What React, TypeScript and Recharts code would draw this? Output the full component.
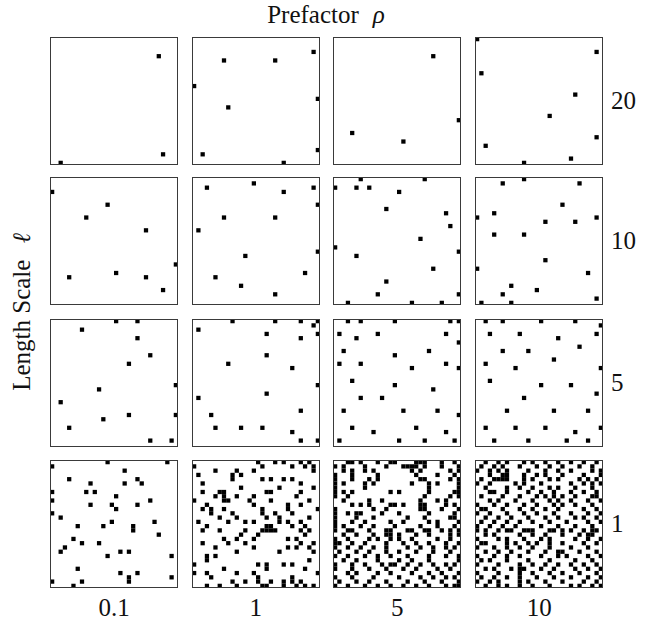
import React from 'react'
import { ScatterChart, Scatter, XAxis, YAxis } from 'recharts'

// grid is 30 x 30 cells per panel; points are [col, row], row 0 at the top
const rhoLabels = ['0.1', '1', '5', '10']
const ellLabels = ['20', '10', '5', '1']

const l20_r01 = [[25, 4], [26, 27], [2, 29]]
const l20_r1 = [[7, 5], [19, 5], [28, 3], [0, 11], [8, 16], [29, 14], [2, 27], [29, 26], [21, 29]]
const l20_r5 = [[23, 4], [4, 22], [29, 19], [16, 24]]
const l20_r10 = [[0, 0], [28, 3], [1, 8], [23, 13], [17, 18], [28, 23], [2, 25], [22, 28], [11, 29]]

const l10_r01 = [[0, 3], [13, 6], [8, 9], [22, 12], [29, 20], [4, 23], [15, 22], [22, 23], [26, 26]]
const l10_r1 = [
  [3, 2], [14, 1], [21, 3], [28, 2], [29, 6], [7, 9], [19, 9], [1, 12], [29, 17], [12, 18],
  [5, 23], [26, 22], [11, 25], [19, 27],
]
const l10_r5 = [
  [6, 0], [21, 0], [0, 2], [5, 2], [8, 2], [15, 3], [12, 7], [26, 8], [27, 11], [20, 14],
  [0, 16], [5, 18], [29, 17], [23, 21], [12, 24], [10, 27], [29, 27], [3, 29], [18, 29], [25, 29],
]
const l10_r10 = [
  [6, 1], [11, 0], [24, 1], [20, 6], [4, 8], [0, 9], [16, 10], [23, 10], [28, 9], [4, 13],
  [11, 13], [16, 19], [0, 21], [26, 22], [8, 25], [14, 26], [6, 27], [1, 29], [8, 29], [28, 28],
]

const l5_r01 = [
  [7, 2], [15, 0], [20, 0], [20, 4], [23, 8], [18, 10], [11, 16], [29, 15], [2, 19], [29, 22],
  [4, 25], [12, 23], [18, 22], [23, 28], [28, 28],
]
const l5_r1 = [
  [9, 0], [25, 0], [28, 1], [29, 3], [1, 2], [17, 3], [25, 4], [17, 8], [8, 10], [23, 11],
  [29, 15], [17, 17], [1, 18], [4, 22], [25, 21], [5, 25], [11, 25], [16, 25], [23, 26], [25, 28],
  [29, 28], [19, 0], [29, 0],
]
const l5_r5 = [
  [3, 0], [6, 0], [14, 0], [27, 0], [29, 0], [1, 3], [5, 4], [10, 3], [26, 3], [29, 5],
  [2, 7], [14, 8], [22, 7], [1, 10], [6, 10], [18, 11], [26, 10], [29, 11], [4, 14], [14, 15],
  [23, 16], [6, 18], [11, 18], [2, 21], [16, 21], [24, 21], [29, 22], [4, 25], [9, 26], [19, 25],
  [26, 26], [1, 28], [15, 28], [21, 28], [28, 28],
]
const l5_r10 = [
  [2, 0], [6, 0], [15, 0], [23, 0], [29, 1], [3, 3], [10, 3], [19, 4], [28, 3], [6, 7],
  [12, 7], [24, 6], [2, 10], [9, 11], [18, 9], [29, 11], [3, 14], [15, 15], [22, 15], [28, 17],
  [11, 18], [7, 21], [18, 21], [26, 21], [2, 25], [9, 25], [16, 25], [23, 26], [29, 25], [4, 28],
  [12, 28], [21, 28], [26, 28],
]

const l1_r01 = [
  [0, 1], [13, 0], [27, 0], [17, 2], [4, 4], [9, 5], [17, 5], [20, 4], [21, 5], [0, 7],
  [8, 7], [10, 7], [15, 8], [0, 9], [23, 9], [9, 10], [14, 10], [20, 10], [15, 11], [0, 12],
  [2, 13], [14, 14], [24, 14], [6, 15], [12, 15], [19, 15], [19, 16], [25, 17], [5, 18], [7, 19],
  [11, 19], [3, 20], [2, 21], [16, 21], [18, 21], [13, 22], [28, 22], [6, 25], [16, 26], [20, 26],
  [28, 27], [18, 27], [18, 28], [0, 28], [7, 28], [5, 29],
]

// dense panels: one list of filled columns per row
const l1_r1 = [
  [15, 19, 21, 25, 27], [0, 16, 23, 26, 28], [5, 10, 14, 28], [1, 9, 11],
  [9, 16, 18, 21, 23], [2, 25], [11, 20, 28], [2, 6, 7, 17, 18, 25],
  [5, 7, 10, 14, 24], [0, 7, 8, 13, 18, 27], [3, 14, 22, 25], [2, 4, 7, 16, 22, 29],
  [4, 9, 16, 19, 23], [6, 10, 17, 20, 27], [1, 8, 12, 14, 20, 22, 25], [3, 17, 18, 23, 26],
  [2, 6, 12, 16, 17, 18, 19, 25, 27], [11, 15, 26], [7, 10, 14, 22, 24], [2, 8, 12, 25, 28],
  [5, 14, 22, 24, 27], [10, 20, 28], [3, 5], [3, 27],
  [0, 15, 17, 21, 23], [7, 17, 26], [0, 3, 10, 14, 29], [4, 15, 23],
  [9, 12, 15, 18, 21, 23, 25], [3, 6, 10, 16, 17, 21, 24, 26, 28],
]
const l1_r5 = [
  [3, 4, 6, 10, 13, 14, 19, 20, 21, 25, 28], [0, 2, 7, 12, 16, 17, 18, 19, 21, 25, 29],
  [2, 4, 7, 9, 18, 20, 27, 29], [0, 4, 10, 19, 24, 28],
  [0, 4, 8, 10, 20, 21, 27, 29], [0, 2, 7, 9, 18, 22, 24, 29],
  [0, 7, 22, 29], [0, 2, 4, 13, 15, 22, 28, 29],
  [0, 3, 21, 27, 29], [2, 8, 11, 20, 24, 26],
  [4, 6, 8, 13, 14, 16, 20, 21, 26, 28], [0, 9, 12, 20, 21, 25, 29],
  [0, 3, 5, 6, 11, 15, 22, 28], [0, 5, 9, 17, 21, 27, 28],
  [0, 4, 7, 13, 16, 22, 24, 29], [0, 2, 6, 9, 14, 20, 24, 28],
  [0, 3, 4, 8, 12, 13, 17, 18, 21, 22, 25, 27, 29], [2, 5, 9, 12, 13, 15, 19, 22, 27, 29],
  [0, 3, 8, 10, 13, 15, 18, 24, 27], [0, 1, 4, 7, 12, 16, 19, 22, 26, 29],
  [0, 3, 6, 9, 12, 17, 20, 23, 26, 28], [1, 5, 8, 12, 15, 19, 23, 27],
  [0, 3, 7, 10, 13, 17, 22, 26, 29], [2, 5, 10, 15, 18, 22, 29],
  [0, 4, 7, 11, 13, 14, 17, 20, 23, 26, 28], [0, 4, 8, 12, 16, 19, 24, 27],
  [3, 5, 10, 13, 18, 22, 25, 29], [0, 4, 9, 15, 20, 23, 26, 28],
  [1, 5, 8, 12, 17, 21, 25, 29], [0, 3, 7, 10, 13, 16, 19, 22, 26, 28, 29],
]
const l1_r10 = [
  [2, 5, 7, 11, 13, 16, 19, 22, 25, 28], [1, 4, 6, 10, 14, 17, 20, 24, 27],
  [0, 3, 5, 7, 12, 16, 19, 22, 27, 29], [3, 6, 7, 11, 14, 16, 20, 25, 29],
  [1, 4, 5, 6, 7, 11, 13, 17, 19, 24, 26, 28], [0, 3, 9, 11, 15, 22, 25, 27, 29],
  [2, 7, 10, 13, 17, 19, 23, 27], [3, 4, 7, 12, 15, 18, 22, 25, 28],
  [1, 6, 10, 14, 16, 18, 20, 23, 27, 28], [3, 5, 9, 13, 17, 19, 22, 26, 29],
  [0, 4, 7, 11, 14, 18, 20, 23, 27], [1, 2, 6, 10, 13, 16, 19, 25, 28],
  [0, 3, 7, 11, 14, 18, 22, 26, 29], [2, 5, 8, 12, 16, 19, 23, 25, 28],
  [1, 4, 7, 10, 13, 17, 21, 26, 29], [0, 3, 6, 9, 15, 19, 23, 27],
  [0, 2, 5, 7, 8, 11, 12, 13, 17, 18, 20, 22, 25, 27, 28], [2, 4, 10, 13, 16, 20, 24, 26, 27],
  [0, 5, 7, 11, 15, 17, 23, 26, 29], [1, 2, 7, 9, 12, 14, 17, 20, 25, 28],
  [0, 4, 7, 10, 13, 17, 22, 26], [2, 5, 8, 12, 16, 19, 20, 24, 28],
  [0, 4, 7, 10, 15, 19, 21, 26, 29], [1, 3, 7, 12, 17, 23, 27],
  [0, 5, 10, 13, 16, 19, 22, 25, 28], [2, 4, 8, 10, 11, 15, 18, 23, 26, 29],
  [0, 5, 10, 13, 17, 20, 24, 28], [1, 4, 7, 10, 14, 18, 22, 26, 29],
  [0, 3, 5, 10, 12, 16, 20, 25, 28], [2, 5, 7, 10, 13, 17, 22, 24, 27, 29],
]

const fromRows = (rows: number[][]) =>
  rows.flatMap((cols, row) => cols.map(col => [col, row]))

const panels = [
  [l20_r01, l20_r1, l20_r5, l20_r10],
  [l10_r01, l10_r1, l10_r5, l10_r10],
  [l5_r01, l5_r1, l5_r5, l5_r10],
  [l1_r01, fromRows(l1_r1), fromRows(l1_r5), fromRows(l1_r10)],
]

const N = 30
const SIZE = 128
const CELL = SIZE / N
const lefts = [50, 191.7, 333.3, 475.3]
const tops = [36.7, 177.3, 319, 460]

const font = '"Liberation Serif", "DejaVu Serif", serif'

const Cell = (props: any) => {
  const { cx, cy } = props
  return <rect x={cx - CELL / 2} y={cy - CELL / 2} width={CELL} height={CELL} fill="#000" />
}

function Panel({ points }: { points: number[][] }) {
  const data = points.map(([c, r]) => ({ x: c + 0.5, y: r + 0.5 }))
  return (
    <ScatterChart width={SIZE} height={SIZE} margin={{ top: 0, right: 0, bottom: 0, left: 0 }}>
      <XAxis type="number" dataKey="x" domain={[0, N]} hide />
      <YAxis type="number" dataKey="y" domain={[0, N]} reversed hide />
      <Scatter data={data} shape={Cell} isAnimationActive={false} />
    </ScatterChart>
  )
}

export default function App() {
  return (
    <div
      style={{
        position: 'absolute',
        left: 0,
        top: 0,
        width: 653,
        height: 623,
        background: '#fff',
        fontFamily: font,
        fontSize: 25,
        color: '#111',
      }}
    >
      {panels.map((row, i) =>
        row.map((pts, j) => (
          <div
            key={`${i}-${j}`}
            style={{ position: 'absolute', left: lefts[j], top: tops[i], width: SIZE, height: SIZE }}
          >
            <Panel points={pts} />
            <div
              style={{
                position: 'absolute',
                inset: 0,
                border: '1.4px solid #3a3a3a',
                boxSizing: 'border-box',
                pointerEvents: 'none',
              }}
            />
          </div>
        ))
      )}

      <div
        style={{
          position: 'absolute',
          left: 326,
          top: 15,
          transform: 'translate(-50%, -50%)',
          whiteSpace: 'nowrap',
          lineHeight: '28px',
        }}
      >
        Prefactor<i style={{ marginLeft: 14 }}>ρ</i>
      </div>

      <div
        style={{
          position: 'absolute',
          left: 22,
          top: 312,
          transform: 'translate(-50%, -50%) rotate(-90deg)',
          whiteSpace: 'nowrap',
          lineHeight: '28px',
        }}
      >
        Length Scale<i style={{ marginLeft: 16 }}>ℓ</i>
      </div>

      {ellLabels.map((t, i) => (
        <div
          key={t}
          style={{
            position: 'absolute',
            left: 611,
            top: tops[i] + SIZE / 2 - 14,
            lineHeight: '28px',
          }}
        >
          {t}
        </div>
      ))}

      {rhoLabels.map((t, j) => (
        <div
          key={t}
          style={{
            position: 'absolute',
            left: lefts[j],
            width: SIZE,
            top: 594,
            textAlign: 'center',
            lineHeight: '28px',
          }}
        >
          {t}
        </div>
      ))}
    </div>
  )
}
